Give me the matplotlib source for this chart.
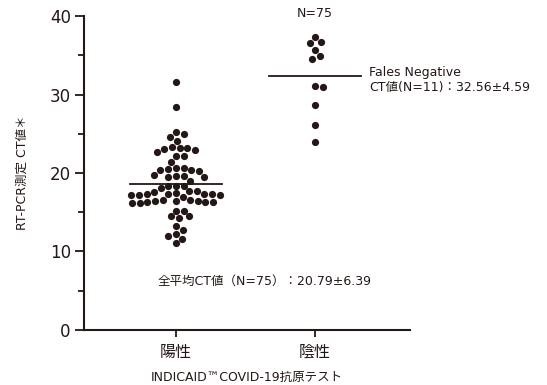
import numpy as np
import matplotlib
matplotlib.use('Agg')
from matplotlib import pyplot as plt

plt.rcParams['font.family'] = ['DejaVu Sans', 'Noto Sans CJK JP']

categories = ['陽性', '陰性']

positive = [31.6, 28.4,
            25.2, 24.6, 25.0, 24.1,
            23.0, 23.15, 23.15, 22.95, 22.65, 23.3,
            22.2, 22.2, 21.4,
            20.5, 20.6, 20.6, 20.4, 20.4, 20.3,
            19.8, 19.5, 19.5, 19.6, 19.6, 19.0,
            18.4, 18.4, 18.4, 18.05, 17.7, 17.7,
            17.4, 17.6, 17.3, 17.3, 17.2, 17.3, 17.2, 17.3, 17.0, 17.2,
            16.5, 16.6, 16.3, 16.3, 16.2, 16.2, 16.3, 16.4, 16.4, 16.4,
            15.2, 15.2, 14.5, 14.5, 14.3,
            13.25, 12.7, 12.0, 12.2, 11.6, 11.05]
negative = [37.3, 36.5, 36.7, 35.7, 34.9, 34.55, 31.1, 31.0, 28.6, 26.1, 23.95]

mean_label = '全平均CT値（N=75）：20.79±6.39'
neg_label = 'Fales Negative\nCT値(N=11)：32.56±4.59'
n_label = 'N=75'

ink = '#231815'

fig = plt.figure(figsize=(5.47, 3.85), dpi=100)
ax = fig.add_axes([0.1536, 0.1429, 0.5959, 0.8155])
ax.set_xlim(-0.662, 1.683)
ax.set_ylim(0, 40)

# pixel scale of the axes, used to lay the dots out as a swarm
fig.canvas.draw()
bb = ax.get_window_extent()
px_x = bb.width / (1.683 + 0.662)
px_y = bb.height / 40.0
d = 7.8


def swarm(vals):
    ys = np.array(vals) * px_y
    offs = np.zeros(len(ys))
    placed = []
    for i in np.argsort(-ys):
        y = ys[i]
        cand = [0.0]
        for (px, py) in placed:
            dy = abs(y - py)
            if dy < d:
                dx = np.sqrt(d * d - dy * dy)
                cand += [px + dx, px - dx]
        cand.sort(key=abs)
        for c in cand:
            if all((c - px) ** 2 + (y - py) ** 2 >= d * d - 1e-6 for (px, py) in placed):
                offs[i] = c
                placed.append((c, y))
                break
    return offs / px_x


for i, vals in enumerate([positive, negative]):
    xs = i + swarm(vals)
    ax.scatter(xs, vals, s=27, color=ink, linewidths=0, zorder=3)
    m = np.mean(vals)
    ax.plot([i - 0.33, i + 0.33], [m, m], color=ink, lw=1.3, zorder=2)

for s in ['top', 'right']:
    ax.spines[s].set_visible(False)
for s in ['left', 'bottom']:
    ax.spines[s].set_linewidth(1.5)
    ax.spines[s].set_color(ink)

ax.set_yticks([0, 10, 20, 30, 40])
ax.set_yticks([5, 15, 25, 35], minor=True)
ax.set_xticks([0, 1])
ax.set_xticklabels(categories, fontsize=11.5, color=ink)
ax.tick_params(axis='y', which='major', length=6.5, width=1.3, color=ink, labelsize=12, labelcolor=ink, pad=3)
ax.tick_params(axis='y', which='minor', length=4, width=1.3, color=ink)
ax.tick_params(axis='x', length=5, width=1.3, color=ink, pad=6)

ax.set_ylabel('RT-PCR測定 CT値＊', fontsize=9, color=ink, labelpad=15)
ax.set_xlabel('INDICAID™COVID-19抗原テスト', fontsize=9, color=ink, labelpad=8)

ax.text(1, 40.3, n_label, ha='center', va='center', fontsize=9, color=ink, clip_on=False)
ax.text(1.39, 31.9, neg_label, ha='left', va='center', fontsize=9, color=ink,
        linespacing=1.2, clip_on=False)
ax.text(-0.13, 6.2, mean_label, ha='left', va='center', fontsize=9, color=ink)

fig.savefig('out.png', dpi=100)
